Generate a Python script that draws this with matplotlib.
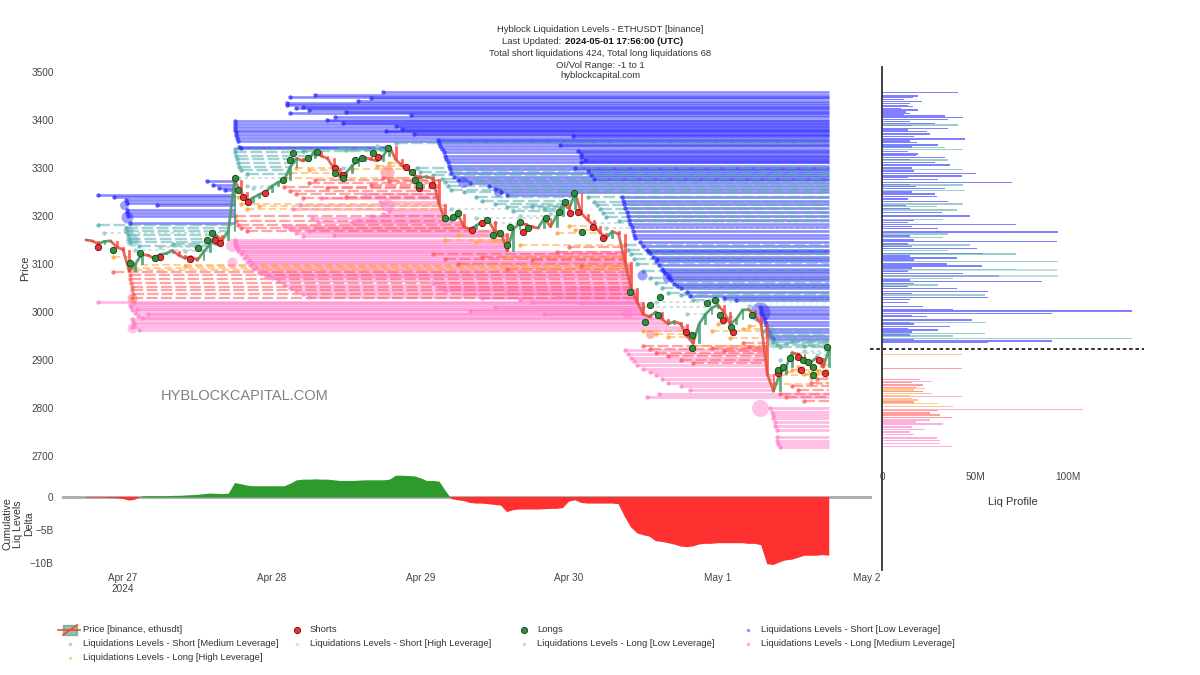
import matplotlib
matplotlib.use("Agg")
import matplotlib.pyplot as plt
import matplotlib.dates as mdates
from matplotlib.collections import LineCollection
from matplotlib.patches import Rectangle
import numpy as np
from datetime import datetime

plt.rcParams['font.family'] = ['Liberation Sans', 'DejaVu Sans']

# ---------------- data ----------------
BASE = datetime(2024, 4, 27)          # hours below are counted from Apr 27 00:00 UTC
FIRST_HOUR = -6                       # first candle: Apr 26 18:00

CLOSE_APR26 = [3150, 3148, 3142, 3147, 3148, 3135]
CLOSE_APR27 = [3130, 3085, 3100, 3120, 3118, 3112, 3120, 3122, 3128, 3118, 3112, 3115,
               3108, 3125, 3140, 3160, 3150, 3168, 3275, 3250, 3230, 3238, 3245, 3250]
CLOSE_APR28 = [3262, 3270, 3275, 3302, 3320, 3315, 3320, 3335, 3325, 3320, 3300, 3282,
               3290, 3305, 3315, 3322, 3318, 3315, 3325, 3345, 3318, 3305, 3298, 3285]
CLOSE_APR29 = [3280, 3282, 3278, 3225, 3190, 3195, 3205, 3178, 3172, 3180, 3188, 3190,
               3168, 3165, 3128, 3172, 3185, 3182, 3177, 3175, 3195, 3178, 3200, 3225]
CLOSE_APR30 = [3215, 3248, 3205, 3192, 3180, 3165, 3155, 3168, 3162, 3105, 3050, 3020,
               2995, 2990, 3000, 2985, 2975, 2980, 2975, 2950, 2935, 2975, 2995, 3008]
CLOSE_MAY01 = [3015, 3000, 2975, 2985, 3004, 3005, 2992, 2975, 2870, 2835, 2870, 2885,
               2915, 2912, 2898, 2895, 2905, 2885, 2922]

# cumulative liq levels delta (billions), one value per candle
DELTA_APR26 = [-0.1, -0.1, -0.1, -0.1, -0.15, -0.2]
DELTA_APR27 = [-0.3, -0.55, -0.4, 0.15, 0.2, 0.2, 0.2, 0.2, 0.25, 0.25, 0.3, 0.35,
               0.4, 0.5, 0.6, 0.55, 0.5, 0.6, 2.2, 2.0, 1.8, 1.7, 1.7, 1.7]
DELTA_APR28 = [1.7, 1.7, 1.7, 2.1, 2.6, 2.7, 2.7, 2.75, 2.7, 2.7, 2.6, 2.5,
               2.5, 2.5, 2.55, 2.6, 2.6, 2.6, 2.6, 2.7, 3.3, 3.3, 3.25, 3.2]
DELTA_APR29 = [2.9, 2.5, 2.5, 2.4, 1.0, -0.3, -0.5, -0.6, -0.9, -1.0, -1.0, -1.1,
               -1.2, -1.3, -2.3, -2.0, -1.9, -1.9, -1.9, -1.9, -1.85, -1.8, -1.8, -1.7]
DELTA_APR30 = [-0.7, -0.5, -0.9, -1.0, -1.0, -1.0, -1.0, -1.0, -1.1, -3.0, -4.6, -5.5,
               -5.8, -6.0, -6.7, -6.8, -7.0, -7.2, -7.5, -7.6, -7.5, -7.2, -7.1, -7.1]
DELTA_MAY01 = [-7.0, -7.0, -7.0, -7.0, -7.0, -7.1, -7.1, -7.3, -10.2, -10.3, -9.9, -9.6,
               -9.5, -9.2, -8.9, -8.9, -8.9, -8.8, -8.9]

# liquidation dots on price (hour, price)
SHORTS_DOTS = [(-4.0, 3135), (6.0, 3115), (10.8, 3110), (14.9, 3150), (15.7, 3144),
               (19.4, 3240), (20.2, 3229), (22.9, 3248), (34.2, 3300), (35.5, 3285),
               (41.2, 3323), (45.6, 3302), (47.7, 3258), (49.9, 3265), (56.4, 3171),
               (58.0, 3185), (64.6, 3167), (72.1, 3206), (73.5, 3208), (75.8, 3177),
               (77.5, 3154), (90.8, 2958), (96.9, 2983), (98.4, 2958), (105.8, 2873),
               (108.9, 2906), (109.4, 2879), (112.3, 2900), (113.3, 2873)]
LONGS_DOTS = [(-1.6, 3129), (1.1, 3102), (2.7, 3123), (5.2, 3112), (12.1, 3133),
              (13.6, 3150), (14.4, 3165), (18.1, 3279), (18.6, 3254), (25.8, 3275),
              (27.0, 3317), (27.5, 3331), (29.9, 3321), (31.3, 3333), (34.2, 3290),
              (35.5, 3279), (37.5, 3317), (38.6, 3321), (40.4, 3331), (42.8, 3342),
              (46.7, 3292), (47.2, 3275), (47.8, 3265), (52.0, 3196), (53.2, 3198),
              (54.1, 3206), (58.8, 3192), (59.8, 3160), (60.9, 3165), (62.0, 3140),
              (62.5, 3177), (64.1, 3187), (65.4, 3175), (68.2, 3196), (70.3, 3208),
              (71.4, 3229), (72.8, 3248), (74.1, 3167), (81.9, 3042), (84.3, 2979),
              (85.1, 3015), (86.3, 2994), (86.7, 3031), (91.9, 2952), (91.9, 2925),
              (94.3, 3019), (95.6, 3025), (96.4, 2994), (98.1, 2969), (101.6, 2994),
              (105.8, 2879), (106.5, 2885), (107.7, 2904), (109.7, 2900), (110.5, 2896),
              (111.3, 2885), (111.4, 2869), (113.7, 2927)]

# liquidation levels: (hour created, price level)
SHORT_LOW = [(-4.0, 3244), (-1.5, 3240), (0.5, 3233), (0.6, 3228), (5.5, 3223), (0.6, 3212),
             (0.6, 3206), (0.8, 3200), (1.1, 3186), (13.5, 3272), (14.5, 3265), (15.5, 3258),
             (16.5, 3254),
             (18.0, 3398), (18.0, 3392), (18.0, 3386), (18.1, 3380), (18.2, 3374), (18.3, 3368),
             (18.4, 3362), (18.6, 3356), (18.8, 3344), (19.0, 3341), (26.5, 3435), (26.5, 3431),
             (27.0, 3414), (31.0, 3452), (34.2, 3406), (35.5, 3394), (42.0, 3458), (42.5, 3377),
             (46.5, 3410), (28.0, 3425), (30.0, 3420), (38.0, 3440), (40.0, 3445), (33.0, 3400),
             (44.0, 3388), (27.0, 3448), (29.0, 3428), (36.0, 3417), (45.0, 3382), (47.0, 3371),
             (50.8, 3358), (51.0, 3352), (51.2, 3346), (51.5, 3340), (51.8, 3333), (52.0, 3326),
             (52.2, 3319), (52.4, 3312), (52.6, 3305), (52.8, 3297), (53.0, 3290), (53.5, 3282),
             (54.0, 3275), (56.0, 3268), (59.0, 3262), (60.0, 3256), (61.0, 3250), (62.0, 3244),
             (72.7, 3366), (70.6, 3348), (74.0, 3330), (74.0, 3322), (74.0, 3312), (73.0, 3300),
             (75.0, 3294), (73.5, 3336), (74.5, 3316), (75.5, 3286), (76.0, 3278),
             (80.5, 3240), (80.7, 3232), (80.9, 3224), (81.1, 3216), (81.3, 3208), (81.5, 3200),
             (81.7, 3192), (81.9, 3184), (82.1, 3176), (82.3, 3168), (82.5, 3160), (82.7, 3154),
             (83.5, 3146), (84.0, 3138), (84.5, 3130), (85.0, 3122), (85.5, 3114), (86.0, 3106),
             (86.5, 3098), (87.0, 3090), (87.5, 3082), (88.0, 3074), (88.5, 3066), (89.0, 3058),
             (90.0, 3050), (91.0, 3042), (91.5, 3034), (97.0, 3030), (99.0, 3024),
             (84.8, 3126), (86.2, 3110), (87.2, 3086), (88.2, 3070), (89.5, 3054),
             (102.8, 3010), (103.0, 3004), (103.0, 2998), (103.2, 2994), (103.4, 2987),
             (103.6, 2980), (103.8, 2972), (104.0, 2965), (104.2, 2958), (104.5, 2950),
             (105.0, 2943)]
SHORT_MED = [(-4.0, 3181), (0.5, 3175), (0.6, 3168), (0.8, 3160), (1.0, 3152), (1.1, 3145),
             (2.5, 3138), (8.0, 3142),
             (18.0, 3340), (18.0, 3333), (18.2, 3325), (18.4, 3318), (18.6, 3310), (18.8, 3302),
             (19.0, 3295), (20.0, 3288), (35.0, 3342), (36.0, 3338), (29.0, 3336), (44.0, 3352),
             (47.5, 3300), (48.0, 3292), (50.0, 3285), (51.5, 3278), (52.0, 3270), (52.5, 3262),
             (53.0, 3255), (55.0, 3250), (57.0, 3240), (58.0, 3232), (60.0, 3225), (62.0, 3218),
             (63.0, 3210), (66.0, 3220), (68.0, 3215), (75.0, 3240), (76.0, 3230), (76.5, 3222),
             (77.0, 3214), (77.5, 3206), (78.0, 3198), (80.0, 3190),
             (81.0, 3140), (81.5, 3130), (82.0, 3120), (82.5, 3110), (83.0, 3100), (84.0, 3085),
             (85.0, 3070), (86.0, 3060), (87.0, 3050), (88.0, 3040), (90.0, 3035), (92.0, 3025),
             (103.5, 2960), (104.0, 2952), (104.5, 2946), (105.0, 2938), (105.5, 2931),
             (106.0, 2926), (107.0, 2935), (108.0, 2940), (110.0, 2930)]
SHORT_HIGH = [(-3.0, 3165), (2.0, 3130), (6.0, 3135), (10.0, 3128), (18.5, 3280), (20.0, 3262),
              (21.0, 3258), (35.5, 3300), (41.0, 3345), (53.0, 3215), (57.0, 3195), (60.0, 3185),
              (64.0, 3200), (69.0, 3205), (76.0, 3185), (78.0, 3175), (84.0, 3010), (86.0, 3020),
              (91.0, 2995), (98.0, 2990), (101.0, 3012), (106.0, 2900), (108.0, 2915),
              (110.0, 2918), (112.0, 2910), (113.0, 2930)]
LONG_LOW = [(-4.0, 3021), (1.2, 3015), (1.3, 3010), (1.5, 3004), (2.0, 2998), (2.4, 2992),
            (1.5, 2985), (1.6, 2980), (1.7, 2975), (1.5, 2969), (1.8, 3018), (2.2, 3007),
            (3.0, 2988), (2.6, 2963), (4.0, 2995),
            (18.0, 3150), (18.0, 3142), (18.2, 3135), (18.5, 3128), (19.0, 3120), (19.5, 3112),
            (20.0, 3105), (20.5, 3098), (21.0, 3090), (22.0, 3082), (23.0, 3075),
            (18.1, 3146), (18.3, 3138), (18.6, 3131), (19.2, 3124), (19.8, 3116), (20.3, 3108),
            (20.8, 3101), (21.5, 3094), (22.5, 3086), (23.5, 3078), (24.0, 3070), (25.0, 3064),
            (26.0, 3057), (27.0, 3050), (28.0, 3044), (29.0, 3037), (30.0, 3032),
            (26.0, 3180), (27.0, 3172), (28.0, 3165), (29.0, 3158), (30.0, 3168), (31.0, 3175),
            (34.0, 3160), (37.0, 3185), (38.0, 3192), (40.0, 3200), (42.0, 3205), (43.0, 3210),
            (30.5, 3195), (31.5, 3188), (27.5, 3215), (28.5, 3222), (41.5, 3230), (32.0, 3238),
            (39.0, 3245),
            (50.0, 3060), (51.0, 3052), (52.0, 3045), (55.0, 3038), (58.0, 3030), (62.0, 3040),
            (64.0, 3025), (66.0, 3020), (70.0, 3032), (72.0, 3050), (74.0, 3018), (60.0, 3010),
            (56.0, 3002), (68.0, 2995),
            (81.0, 2920), (81.5, 2912), (82.0, 2905), (82.5, 2898), (83.0, 2890), (84.0, 2882),
            (85.0, 2875), (86.0, 2868), (87.0, 2860), (88.0, 2852), (90.0, 2845), (91.5, 2838),
            (86.5, 2830), (84.5, 2822),
            (104.5, 2800), (104.8, 2792), (105.0, 2785), (105.0, 2778), (105.2, 2770),
            (105.3, 2762), (105.5, 2755), (105.5, 2740), (105.6, 2732), (105.8, 2725),
            (106.0, 2719)]
LONG_MED = [(-1.6, 3083), (1.2, 3076), (1.2, 3068), (1.3, 3060), (1.4, 3052), (1.5, 3045),
            (1.6, 3038), (1.5, 3030),
            (18.0, 3200), (18.2, 3190), (18.5, 3182), (19.0, 3175), (20.0, 3168), (26.0, 3260),
            (27.0, 3252), (28.0, 3245), (29.0, 3238), (30.0, 3268), (31.0, 3275), (33.0, 3258),
            (36.0, 3240), (40.0, 3265), (42.0, 3280), (43.0, 3272),
            (50.0, 3120), (52.0, 3110), (54.0, 3100), (58.0, 3115), (62.0, 3090), (66.0, 3108),
            (70.0, 3125), (72.0, 3135), (74.0, 3095),
            (84.0, 2930), (85.0, 2922), (86.0, 2915), (88.0, 2908), (90.0, 2900), (92.0, 2893),
            (95.0, 2925), (97.0, 2918), (100.0, 2935), (101.0, 2928),
            (106.0, 2830), (107.0, 2822), (108.0, 2845), (109.0, 2838), (110.0, 2815),
            (111.0, 2852), (112.0, 2860)]
LONG_HIGH = [(-1.6, 3115), (1.2, 3098), (1.5, 3092), (2.0, 3088), (10.0, 3095),
             (18.5, 3240), (19.0, 3225), (20.0, 3215), (22.0, 3220), (26.0, 3280), (27.0, 3290),
             (28.0, 3300), (30.0, 3296), (37.0, 3298), (41.0, 3305), (43.0, 3310),
             (52.0, 3150), (54.0, 3160), (57.0, 3145), (60.0, 3150), (62.0, 3115), (64.0, 3140),
             (70.0, 3165), (72.0, 3180), (73.0, 3170),
             (84.0, 2960), (86.0, 2955), (88.0, 2948), (92.0, 2930), (95.0, 2960), (96.0, 2975),
             (98.0, 2945), (100.0, 2965), (101.0, 2970),
             (105.0, 2850), (106.0, 2868), (107.0, 2875), (108.0, 2880), (109.0, 2885),
             (110.0, 2870), (111.0, 2862), (112.0, 2878), (113.0, 2890)]

# large-volume level markers: (category, hour, price, diameter in px)
BIG_MARKERS = [('short_low', 0.6, 3198, 12), ('short_low', 0.2, 3223, 9),
               ('short_med', 1.5, 3150, 13), ('short_med', 0.8, 3170, 10),
               ('long_med', 1.5, 3029, 10), ('long_low', 1.5, 2967, 10),
               ('long_low', 17.6, 3140, 13), ('long_low', 17.6, 3104, 10),
               ('short_low', 54.8, 3271, 11), ('short_low', 60.6, 3250, 9),
               ('long_med', 42.6, 3292, 14), ('long_low', 42.6, 3223, 13),
               ('short_low', 83.8, 3077, 10), ('short_low', 87.8, 3073, 10),
               ('short_low', 102.9, 3000, 20), ('long_low', 102.9, 2800, 17),
               ('long_low', 81.4, 2998, 11), ('short_med', 104.5, 2960, 10),
               ('short_med', 105.0, 2935, 10), ('long_med', 85.0, 2955, 9)]

# liquidation profile (price level, volume in millions)
PROF_SHORT_LOW = [(3457.6, 41.1), (3450, 19.5), (3446.5, 16.8), (3438, 21.3), (3434.7, 15.1),
                  (3427.8, 16.8), (3420.8, 19.5), (3414, 15.1), (3408, 33.9), (3405.6, 43.7),
                  (3401.4, 35.7), (3393, 28.5), (3382.6, 35.7), (3375.7, 24), (3371, 25.8),
                  (3360.4, 44.6), (3352.8, 18.6), (3348, 30.3), (3329, 19.5), (3322, 33.9),
                  (3311, 28.5), (3306, 36.6), (3289, 50.5), (3283, 42.8), (3276, 30.3),
                  (3270, 69.7), (3257.6, 33.9), (3246, 28.5), (3240, 29.4), (3230, 35.7),
                  (3207, 32.1), (3200, 47.3), (3182.6, 72), (3174, 30.3), (3167, 94.8),
                  (3146.5, 93.9), (3132.6, 50.9), (3122, 54.1), (3112, 40.2), (3100, 34.8),
                  (3096, 53.6), (3080.6, 43.7), (3075, 63.1), (3063, 85.8), (3049, 40.2),
                  (3042.4, 57.2), (3030.5, 57.2), (3011, 22.2), (3005.6, 38.4), (3002, 134.2),
                  (2997, 91.2), (2990, 24), (2983, 48.2), (2969.4, 36.6), (2962.5, 30.3),
                  (2939.6, 91.2), (2936, 57.2),
                  (3443, 12), (3430, 14), (3424, 10), (3417, 13), (3411, 12), (3397, 15),
                  (3388, 16), (3379, 14), (3366, 17), (3356, 15), (3344, 16), (3334, 14),
                  (3326, 18), (3318, 15), (3300, 16), (3294, 17), (3280, 14), (3266, 15),
                  (3262, 18), (3250, 16), (3235, 14), (3222, 13), (3215, 15), (3190, 17),
                  (3186, 14), (3178, 16), (3158, 15), (3150, 17), (3142, 14), (3136, 16),
                  (3117, 15), (3108, 17), (3092, 16), (3085, 14), (3067, 15), (3059, 17),
                  (3053, 14), (3038, 16), (3026, 15), (3020, 14), (2993, 16), (2978, 15),
                  (2975, 17), (2966, 14), (2958, 16), (2952, 15), (2943, 17)]
PROF_SHORT_MED = [(3389.6, 41.1), (3343, 33.9), (3339, 43.7), (3316.7, 35.7), (3297, 43.7),
                  (3264.6, 43.7), (3252.8, 44.6), (3225, 43.7), (3219.4, 29.4), (3212.5, 40.2),
                  (3193, 33), (3162.5, 35.7), (3155.6, 33), (3139.6, 47.3), (3127.8, 35.7),
                  (3121, 72), (3105.6, 94.8), (3089, 72), (3070, 38.4), (3056, 30.3),
                  (3035.4, 55.4), (2977.8, 55.9), (2955.5, 55.4), (2950, 38.4), (2945, 134.2)]
PROF_SHORT_HIGH = [(3087.5, 93.9), (3075, 94.8)]
PROF_LONG_LOW = [(2855, 26.7), (2823.6, 42.8), (2797, 108), (2775, 25.8), (2766.7, 33),
                 (2755.6, 23.1), (2737, 29.4), (2732, 31.2), (2726, 31.2), (2719.4, 37.5),
                 (2771, 18), (2760, 16), (2750, 15), (2745, 17)]
PROF_LONG_MED = [(2882.6, 42.8), (2859.7, 20.4), (2848, 22.2), (2834, 22.2), (2794.4, 30.3),
                 (2789, 25.8), (2785.4, 31.2), (2780.6, 37.5), (2853, 16), (2843, 18),
                 (2812, 17)]
PROF_LONG_HIGH = [(2911, 42.8), (2841, 23.1), (2830.6, 26.7), (2816.7, 19.5), (2809.7, 30.3),
                  (2802.8, 38.4), (2837, 17), (2826, 15), (2820, 16)]

DAY_TICKS = [datetime(2024, 4, d) for d in (27, 28, 29, 30)] + [datetime(2024, 5, d) for d in (1, 2)]
DAY_LABELS = ['Apr 27\n2024', 'Apr 28', 'Apr 29', 'Apr 30', 'May 1', 'May 2']
PRICE_TICKS = [2700, 2800, 2900, 3000, 3100, 3200, 3300, 3400, 3500]

# ---------------- styles ----------------
STYLE = {
    'short_low':  dict(color='#2a2aff', alpha=0.55, lw=1.9, ls='-'),
    'short_med':  dict(color='#5aaeae', alpha=0.55, lw=1.7, ls=(0, (5, 1.5))),
    'short_high': dict(color='#9ccccc', alpha=0.65, lw=1.2, ls=(0, (2, 2))),
    'long_low':   dict(color='#ff78c8', alpha=0.5, lw=2.0, ls='-'),
    'long_med':   dict(color='#ff5a5a', alpha=0.55, lw=1.6, ls=(0, (5, 1.5))),
    'long_high':  dict(color='#ffa53f', alpha=0.6, lw=1.3, ls=(0, (4, 2))),
}
LEVELS = {'short_low': SHORT_LOW, 'short_med': SHORT_MED, 'short_high': SHORT_HIGH,
          'long_low': LONG_LOW, 'long_med': LONG_MED, 'long_high': LONG_HIGH}

CLOSE = CLOSE_APR26 + CLOSE_APR27 + CLOSE_APR28 + CLOSE_APR29 + CLOSE_APR30 + CLOSE_MAY01
DELTA = DELTA_APR26 + DELTA_APR27 + DELTA_APR28 + DELTA_APR29 + DELTA_APR30 + DELTA_MAY01
HOURS = list(range(FIRST_HOUR, FIRST_HOUR + len(CLOSE)))
X0 = mdates.date2num(BASE)


def tx(h):
    return X0 + np.asarray(h, dtype=float) / 24.0


def level_end(h0, p, short):
    for h, c in zip(HOURS, CLOSE):
        if h > h0 and ((short and c >= p) or ((not short) and c <= p)):
            return h
    return HOURS[-1]


# ---------------- figure ----------------
W, H = 1200, 675
fig = plt.figure(figsize=(12, 6.75), dpi=100)


def box(l, t, r, b):
    return [l / W, 1 - b / H, (r - l) / W, (b - t) / H]


ax = fig.add_axes(box(62, 65, 872, 466))
axd = fig.add_axes(box(62, 468, 872, 570), sharex=ax)
axp = fig.add_axes(box(882, 65, 1150, 466), sharey=ax)
ov = fig.add_axes([0, 0, 1, 1])
ov.set_xlim(0, W)
ov.set_ylim(H, 0)
ov.axis('off')

# levels
for cat, lv in LEVELS.items():
    st = STYLE[cat]
    short = cat.startswith('short')
    segs = []
    for h0, p in lv:
        h1 = level_end(h0, p, short)
        segs.append([(tx(h0), p), (tx(h1), p)])
    lc = LineCollection(segs, colors=st['color'], alpha=st['alpha'], linewidths=st['lw'],
                        linestyles=[st['ls']], zorder=2)
    ax.add_collection(lc)
    ax.scatter(tx([h for h, _ in lv]), [p for _, p in lv], s=10, color=st['color'],
               alpha=min(1, st['alpha'] + 0.2), lw=0, zorder=2.5)

for cat, h, p, d in BIG_MARKERS:
    ax.plot(tx(h), p, 'o', ms=d * 0.72, color=STYLE[cat]['color'], alpha=0.45, mew=0, zorder=2.6)

# price: zigzag coloured by candle direction plus slim candle bodies
opens = [CLOSE[0]] + CLOSE[:-1]
xs = tx(HOURS)
psegs, pcols = [], []
for i in range(1, len(CLOSE)):
    psegs.append([(xs[i - 1], CLOSE[i - 1]), (xs[i], CLOSE[i])])
    pcols.append('#4a9a62' if CLOSE[i] >= CLOSE[i - 1] else '#dd5a44')
ax.add_collection(LineCollection(psegs, colors=pcols, linewidths=2.0, alpha=0.9,
                                 capstyle='round', zorder=4))
for x, o, c in zip(xs, opens, CLOSE):
    col = '#3D9970' if c >= o else '#FF4136'
    ax.bar(x, max(abs(c - o), 1), bottom=min(o, c), width=0.3 / 24, color=col,
           edgecolor=col, linewidth=0.5, alpha=0.8, zorder=4.1)

ax.plot(tx([h for h, _ in SHORTS_DOTS]), [p for _, p in SHORTS_DOTS], 'o', ms=4.6,
        mfc='#ef2f2f', mec='#5a1010', mew=0.6, zorder=5)
ax.plot(tx([h for h, _ in LONGS_DOTS]), [p for _, p in LONGS_DOTS], 'o', ms=4.6,
        mfc='#2f8f3a', mec='#123d16', mew=0.6, zorder=5)

ax.set_xlim(tx(-9.85), tx(120.9))
ax.set_ylim(2679, 3514.6)
ax.set_yticks(PRICE_TICKS)
ax.set_yticklabels([str(t) for t in PRICE_TICKS])
ax.tick_params(axis='y', length=0, labelsize=7.2, labelcolor='#444444', pad=6)
ax.tick_params(axis='x', length=0, labelbottom=False)
for s in ax.spines.values():
    s.set_visible(False)

# delta
d = np.array(DELTA)
axd.fill_between(xs, 0, d, where=d >= 0, color='#2e9a2e', interpolate=True, lw=0)
axd.fill_between(xs, 0, d, where=d <= 0, color='#ff3030', interpolate=True, lw=0)
axd.axhline(0, color='#aaaaaa', lw=2, zorder=0)
axd.set_ylim(-11.06, 4.39)
axd.set_yticks([0, -5, -10])
axd.set_yticklabels(['0', '\u22125B', '\u221210B'])
axd.tick_params(axis='y', length=0, labelsize=7.2, labelcolor='#444444', pad=6)
axd.set_xticks(mdates.date2num(DAY_TICKS))
axd.set_xticklabels(DAY_LABELS)
axd.tick_params(axis='x', length=0, labelsize=7.2, labelcolor='#444444', pad=2)
for s in axd.spines.values():
    s.set_visible(False)

# profile
for data, cat in ((PROF_SHORT_LOW, 'short_low'), (PROF_SHORT_MED, 'short_med'),
                  (PROF_SHORT_HIGH, 'short_high'), (PROF_LONG_LOW, 'long_low'),
                  (PROF_LONG_MED, 'long_med'), (PROF_LONG_HIGH, 'long_high')):
    col = STYLE[cat]['color']
    axp.barh([p for p, _ in data], [v for _, v in data], height=3.0, color=col,
             alpha=0.6, lw=0)
axp.plot([-6.5, 141], [CLOSE[-1], CLOSE[-1]], color='#222222', lw=1.3, ls=(0, (2, 1.5)),
         clip_on=False, zorder=5)
axp.set_xlim(0, 144)
axp.set_xticks([0, 50, 100])
axp.set_xticklabels(['0', '50M', '100M'])
axp.tick_params(axis='x', length=0, labelsize=7.2, labelcolor='#444444', pad=4)
axp.tick_params(axis='y', left=False, labelleft=False)
for s in axp.spines.values():
    s.set_visible(False)

# overlay decorations
ov.plot([882, 882], [67, 570], color='#333333', lw=1.3)
ov.text(1013, 502, 'Liq Profile', ha='center', va='center', fontsize=8, color='#333333')
ov.text(25, 268, 'Price', rotation=90, ha='center', va='center', fontsize=8, color='#333333')
ov.text(18, 524, 'Cumulative\nLiq Levels\nDelta', rotation=90, ha='center', va='center',
        fontsize=7.6, color='#333333', multialignment='center', linespacing=1.12)
ov.text(245, 396, 'HYBLOCKCAPITAL.COM', ha='center', va='center', fontsize=10.5,
        color='#808080')

TC = '#333333'
FS = 6.8
ov.text(600, 30, 'Hyblock Liquidation Levels - ETHUSDT [binance]', ha='center', va='center',
        fontsize=FS, color=TC)
ov.text(564, 42, 'Last Updated: ', ha='right', va='center', fontsize=FS, color=TC)
ov.text(565, 42, '2024-05-01 17:56:00 (UTC)', ha='left', va='center', fontsize=FS,
        color='#111111', fontweight='bold')
ov.text(600, 54, 'Total short liquidations 424, Total long liquidations 68', ha='center',
        va='center', fontsize=FS, color=TC)
ov.text(600, 65, 'OI/Vol Range: -1 to 1', ha='center', va='center', fontsize=FS, color=TC)
ov.text(600, 76, 'hyblockcapital.com', ha='center', va='center', fontsize=FS, color=TC)

# legend
LEG_ROWS = [630, 644, 658]
LEG_COLS = [70, 297, 524, 748]
legend_items = [
    ('price', 'Price [binance, ethusdt]'), ('shorts', 'Shorts'), ('longs', 'Longs'),
    ('short_low', 'Liquidations Levels - Short [Low Leverage]'),
    ('short_med', 'Liquidations Levels - Short [Medium Leverage]'),
    ('short_high', 'Liquidations Levels - Short [High Leverage]'),
    ('long_low', 'Liquidations Levels - Long [Low Leverage]'),
    ('long_med', 'Liquidations Levels - Long [Medium Leverage]'),
    ('long_high', 'Liquidations Levels - Long [High Leverage]'),
]
for i, (key, label) in enumerate(legend_items):
    cx = LEG_COLS[i % 4]
    cy = LEG_ROWS[i // 4]
    if key == 'price':
        ov.plot([cx - 12, cx + 10], [cy, cy], color='#FF4136', lw=1.2)
        ov.add_patch(Rectangle((cx - 7, cy - 5), 14, 10, facecolor='#3D9970', alpha=0.6,
                               edgecolor='#3D9970', lw=1))
        ov.plot([cx - 7, cx + 7], [cy + 5, cy - 5], color='#FF4136', lw=1.2)
    elif key == 'shorts':
        ov.plot(cx, cy, 'o', ms=4.5, mfc='#ef2f2f', mec='#5a1010', mew=0.6)
    elif key == 'longs':
        ov.plot(cx, cy, 'o', ms=4.5, mfc='#2f8f3a', mec='#123d16', mew=0.6)
    else:
        ov.plot(cx, cy, 'o', ms=2.5, color=STYLE[key]['color'], alpha=0.5, mew=0)
    ov.text(cx + 13, cy, label, ha='left', va='center', fontsize=FS, color='#333333')

fig.savefig('out.png', dpi=100)
